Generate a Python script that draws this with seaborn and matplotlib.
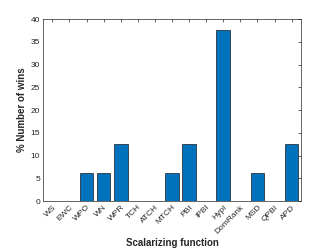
import pandas as pd
import matplotlib
matplotlib.use("Agg")
import matplotlib.pyplot as plt
import seaborn as sns

functions = ['WS', 'EWC', 'WPO', 'WN', 'WPR', 'TCH', 'ATCH', 'MTCH', 'PBI', 'IPBI',
             'HypI', 'DomRank', 'MSD', 'QPBI', 'APD']
wins = [0, 0, 6.25, 6.25, 12.5, 0, 0, 6.25, 12.5, 0, 37.5, 0, 6.25, 0, 12.5]

df = pd.DataFrame({'Function': functions, 'Wins': wins})

sns.set_style("white")
plt.rcParams['font.family'] = ['Liberation Sans', 'DejaVu Sans']

fig = plt.figure(figsize=(3.32, 2.49), dpi=100)
ax = fig.add_axes([43/332, 1 - 201/249, (301-43)/332, (201-19)/249])

sns.barplot(x='Function', y='Wins', data=df, color='#0072BD', saturation=1,
            width=0.8, edgecolor='#1a1a1a', linewidth=0.5, ax=ax)

ax.set_xlim(-0.55, 14.55)
ax.set_ylim(0, 40)
ax.set_yticks(range(0, 41, 5))
ax.set_xlabel("Scalarizing function", fontsize=7, fontweight='bold', labelpad=2)
ax.set_ylabel("% Number of wins", fontsize=7, fontweight='bold', labelpad=3)
ax.tick_params(axis='both', direction='in', length=2, width=0.5, labelsize=6,
               colors='#262626', top=True, right=True, pad=2)
plt.setp(ax.get_xticklabels(), rotation=45, ha='right', rotation_mode='anchor')
for s in ax.spines.values():
    s.set_linewidth(0.5)
    s.set_color('#262626')

fig.savefig("out.png", dpi=100)
